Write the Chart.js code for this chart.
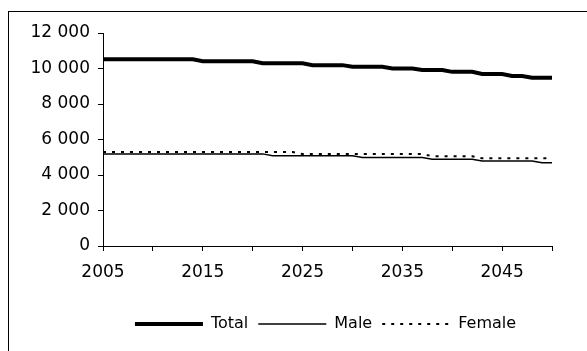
<!DOCTYPE html>
<html lang="en">
<head>
    <meta charset="UTF-8">
    <title>Population projection</title>
    <style>
        html, body {
            margin: 0;
            padding: 0;
            background: #ffffff;
            overflow: hidden;
        }

        /* marco exterior, recortado por la ventana a la derecha y abajo */
        .frame {
            position: absolute;
            left: 8px;
            top: 11px;
            width: 635px;
            height: 380px;
            border: 1px solid #000000;
            box-sizing: border-box;
        }

        #popChart {
            display: block;
        }
    </style>
</head>
<body>
    <div class="frame">
        <canvas id="popChart" width="633" height="330"></canvas>
    </div>

    <script src="https://cdn.jsdelivr.net/npm/chart.js"></script>
    <script>
        // Years 2005 .. 2050
        const years = [];
        for (let y = 2005; y <= 2050; y++) years.push(y);

        // Values (thousands)
        const totalValues = [
            10520, 10520, 10520, 10520, 10520, 10520, 10520, 10520, 10520, 10520,
            10410, 10410, 10410, 10410, 10410, 10410,
            10300, 10300, 10300, 10300, 10300,
            10190, 10190, 10190, 10190,
            10100, 10100, 10100, 10100,
            10000, 10000, 10000,
            9920, 9920, 9920,
            9810, 9810, 9810,
            9690, 9690, 9690,
            9580, 9580,
            9480, 9480, 9480
        ];

        const maleValues = [
            5190, 5190, 5190, 5190, 5190, 5190, 5190, 5190, 5190, 5190,
            5190, 5190, 5190, 5190, 5190, 5190, 5190,
            5090, 5090, 5090, 5090, 5090, 5090, 5090, 5090, 5090,
            4990, 4990, 4990, 4990, 4990, 4990, 4990,
            4890, 4890, 4890, 4890, 4890,
            4790, 4790, 4790, 4790, 4790, 4790,
            4690, 4690
        ];

        const femaleValues = [
            5290, 5290, 5290, 5290, 5290, 5290, 5290, 5290, 5290, 5290,
            5290, 5290, 5290, 5290, 5290, 5290, 5290, 5290, 5290, 5290,
            5180, 5180, 5180, 5180, 5180, 5180, 5180, 5180, 5180, 5180, 5180, 5180, 5180,
            5060, 5060, 5060, 5060, 5060,
            4940, 4940, 4940, 4940, 4940, 4940, 4940, 4940
        ];

        const xLabelYears = [2005, 2015, 2025, 2035, 2045];

        const toPoints = (vals) => vals.map((v, i) => ({ x: years[i], y: v }));

        // separador de miles con espacio
        const fmt = (v) => String(v).replace(/\B(?=(\d{3})+(?!\d))/g, ' ');

        const tickFont = { family: 'DejaVu Sans', size: 17 };

        new Chart(document.getElementById('popChart'), {
            type: 'line',
            data: {
                datasets: [
                    {
                        label: 'Total',
                        data: toPoints(totalValues),
                        borderColor: '#000000',
                        backgroundColor: '#000000',
                        borderWidth: 4,
                        pointRadius: 0,
                        tension: 0
                    },
                    {
                        label: 'Male',
                        data: toPoints(maleValues),
                        borderColor: '#000000',
                        backgroundColor: '#000000',
                        borderWidth: 1.5,
                        pointRadius: 0,
                        tension: 0
                    },
                    {
                        label: 'Female',
                        data: toPoints(femaleValues),
                        borderColor: '#000000',
                        backgroundColor: '#000000',
                        borderWidth: 2,
                        borderDash: [3, 6],
                        pointRadius: 0,
                        tension: 0
                    }
                ]
            },
            options: {
                responsive: false,
                animation: false,
                devicePixelRatio: 1,
                layout: {
                    padding: { top: 21, right: 0, bottom: 0, left: 0 }
                },
                plugins: {
                    tooltip: { enabled: false },
                    legend: {
                        position: 'bottom',
                        labels: {
                            usePointStyle: true,
                            pointStyleWidth: 68,
                            color: '#000000',
                            padding: 10,
                            font: { family: 'DejaVu Sans', size: 16 },
                            // muestra de línea con el mismo grosor y trazo que la serie
                            generateLabels: (chart) => chart.data.datasets.map((ds, i) => ({
                                text: ds.label,
                                fillStyle: ds.borderColor,
                                strokeStyle: ds.borderColor,
                                lineWidth: ds.borderWidth,
                                lineDash: ds.borderDash || [],
                                pointStyle: 'line',
                                hidden: false,
                                datasetIndex: i
                            }))
                        }
                    }
                },
                scales: {
                    x: {
                        type: 'linear',
                        min: 2005,
                        max: 2050,
                        afterFit: (axis) => {
                            axis.height = 60;
                            axis.paddingRight = 90;
                        },
                        ticks: {
                            stepSize: 5,
                            padding: 11,
                            maxRotation: 0,
                            autoSkip: false,
                            color: '#000000',
                            font: tickFont,
                            callback: (v) => xLabelYears.includes(v) ? String(v) : ''
                        },
                        grid: {
                            drawOnChartArea: false,
                            drawTicks: true,
                            tickLength: 5,
                            color: '#000000'
                        },
                        border: { display: true, color: '#000000', width: 1 }
                    },
                    y: {
                        min: 0,
                        max: 12000,
                        afterFit: (axis) => { axis.width = 94; },
                        ticks: {
                            stepSize: 2000,
                            padding: 8,
                            color: '#000000',
                            font: tickFont,
                            callback: (v) => fmt(v)
                        },
                        grid: {
                            drawOnChartArea: false,
                            drawTicks: true,
                            tickLength: 5,
                            color: '#000000'
                        },
                        border: { display: true, color: '#000000', width: 1 }
                    }
                }
            }
        });
    </script>
</body>
</html>
